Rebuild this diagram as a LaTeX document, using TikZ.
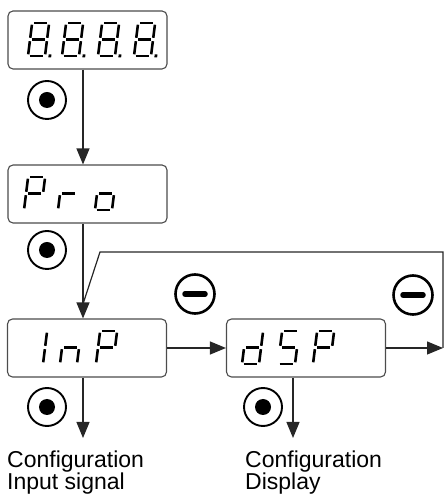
\documentclass[tikz,border=0pt]{standalone}
\usepackage{fontspec}
\setmainfont{Liberation Sans}
\usetikzlibrary{arrows.meta}

\tikzset{
  lcd/.style={draw=black!70,line width=1.1pt,rounded corners=5pt,minimum width=159pt,minimum height=58pt,inner sep=0pt},
  seg/.style={line width=2.6pt},
  arr/.style={black!85,line width=1.2pt,-{Triangle[length=16pt,width=13pt]}},
  conn/.style={black!85,line width=1.2pt},
  okkey/.style={circle,draw,line width=1.9pt,minimum size=38pt,inner sep=0pt,
    path picture={\fill (path picture bounding box.center) circle (8pt);}},
  minuskey/.style={circle,draw,line width=2.6pt,minimum size=39pt,inner sep=0pt,
    path picture={\draw[line width=5.5pt,line cap=round] ([xshift=-10pt]path picture bounding box.center) -- ([xshift=10pt]path picture bounding box.center);}},
  caption/.style={font=\fontsize{23}{22}\selectfont,align=left,inner sep=0pt,anchor=base west}
}

% seven segment pieces, digit 17 x 33
\newcommand{\sega}{\draw[seg] (1.7,33) -- (15.3,33);}
\newcommand{\segb}{\draw[seg] (17,31.3) -- (17,18.2);}
\newcommand{\segc}{\draw[seg] (17,14.8) -- (17,1.7);}
\newcommand{\segd}{\draw[seg] (1.7,0) -- (15.3,0);}
\newcommand{\sege}{\draw[seg] (0,14.8) -- (0,1.7);}
\newcommand{\segf}{\draw[seg] (0,31.3) -- (0,18.2);}
\newcommand{\segg}{\draw[seg] (1.7,16.5) -- (15.3,16.5);}
\newcommand{\segp}{\fill (20.5,-1.3) rectangle ++(2.8,2.8);}
\newcommand{\lcdchar}[3]{\begin{scope}[shift={(#1,#2)},xslant=0.125]
  \foreach \s in {#3}{\csname seg\s\endcsname}\end{scope}}

\begin{document}
\begin{tikzpicture}[x=1pt,y=1pt]
\useasboundingbox (0,0) rectangle (444,494);

\node[lcd] (disp) at (87.5,454) {};
\node[lcd] (pro) at (87.5,300) {};
\node[lcd] (inp) at (87,146) {};
\node[lcd] (dsp) at (306,146) {};

\foreach \dx in {28,62,98,134}
  \lcdchar{\dx}{438}{a,b,c,d,e,f,g,p};
\lcdchar{24}{284}{a,b,e,f,g}
\lcdchar{58}{284}{e,g}
\lcdchar{95}{284}{c,d,e,g}
\lcdchar{26}{130}{b,c}
\lcdchar{60}{130}{c,e,g}
\lcdchar{96}{130}{a,b,e,f,g}
\lcdchar{242}{130}{b,c,d,e,g}
\lcdchar{278}{130}{a,f,g,c,d}
\lcdchar{313}{130}{a,b,e,f,g}

\node[okkey] (ok1) at (47,394) {};
\node[okkey] (ok2) at (47,244) {};
\node[okkey] (ok3) at (47,87) {};
\node[okkey] (ok4) at (263,87) {};
\node[minuskey] (dn1) at (195,200) {};
\node[minuskey] (dn2) at (413,199) {};

\coordinate (rt) at (443,146);
\coordinate (tp) at (100,242);
\coordinate (jn) at (83,190);
\coordinate (end1) at (83,56);
\coordinate (end2) at (293,56);

\draw[arr] ([xshift=-4.5pt]disp.south) -- ([xshift=-4.5pt]pro.north);
\draw[arr] ([xshift=-4.5pt]pro.south) -- ([xshift=-4pt]inp.north);
\draw[arr] (inp) -- (dsp);
\draw[arr] (dsp) -- (rt);
\draw[conn] (rt) |- (tp) -- (jn);
\draw[arr] ([xshift=-4pt]inp.south) -- (end1);
\draw[arr] ([xshift=-13pt]dsp.south) -- (end2);

\node[caption] (cap1) at (7,5) {Configuration\\Input signal};
\node[caption] (cap2) at (245,5) {Configuration\\Display};
\end{tikzpicture}
\end{document}
